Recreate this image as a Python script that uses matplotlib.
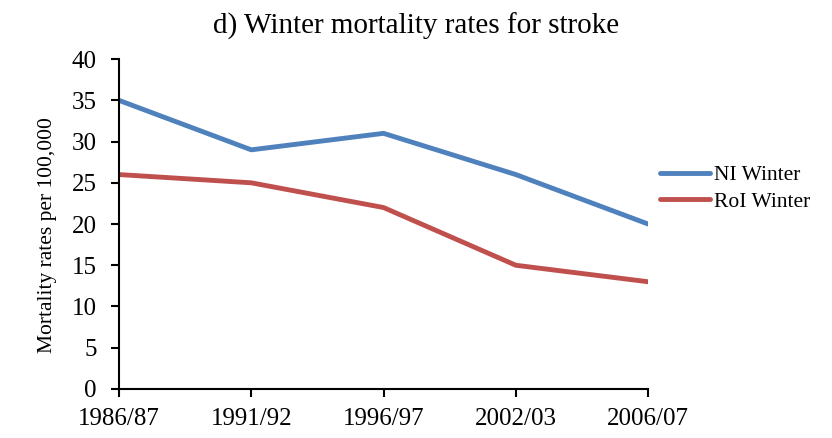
import matplotlib.pyplot as plt

periods = ['1986/87', '1991/92', '1996/97', '2002/03', '2006/07']
ni_winter = [35, 29, 31, 26, 20]
roi_winter = [26, 25, 22, 15, 13]

plt.rcParams['font.family'] = ['Liberation Serif', 'DejaVu Serif']

fig = plt.figure(figsize=(8.32, 4.38), dpi=100)
ax = fig.add_axes([0.143, 0.112, 0.636, 0.753])

x = range(len(periods))
ax.plot(x, ni_winter, color='#4F81BD', lw=3.5, label='NI Winter', solid_capstyle='round')
ax.plot(x, roi_winter, color='#C0504D', lw=3.5, label='RoI Winter', solid_capstyle='round')

ax.set_xlim(0, len(periods) - 1)
ax.set_ylim(0, 40)
ax.set_yticks(range(0, 41, 5))
ax.set_xticks(list(x))
ax.set_xticklabels(periods)
ax.tick_params(axis='both', labelsize=18, direction='out', length=6, width=1.5)
ax.tick_params(axis='x', pad=8)
ax.tick_params(axis='y', pad=10)
for s in ['top', 'right']:
    ax.spines[s].set_visible(False)
for s in ['left', 'bottom']:
    ax.spines[s].set_linewidth(1.5)
ax.set_ylabel('Mortality rates per 100,000', fontsize=15.5)
ax.yaxis.set_label_coords(-0.118, 0.467)
fig.suptitle('d) Winter mortality rates for stroke', fontsize=21, y=0.97)

fig.legend(loc='center left', bbox_to_anchor=(0.77, 0.57), frameon=False,
           fontsize=15.5, handlelength=2.3, handletextpad=0.2, labelspacing=0.3)

fig.savefig('out.png', dpi=100)
